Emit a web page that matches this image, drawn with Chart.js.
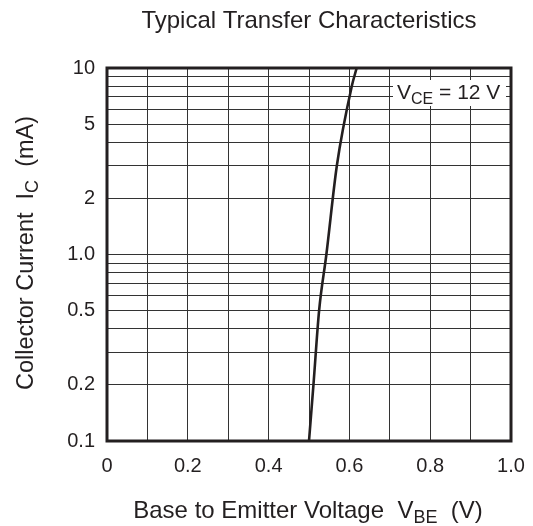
<!DOCTYPE html>
<html><head><meta charset="utf-8">
<script src="https://cdn.jsdelivr.net/npm/chart.js@4/dist/chart.umd.min.js"></script>
<style>html,body{margin:0;padding:0;background:#fff}#wrap{width:533px;height:526px}</style>
</head><body><div id="wrap"><canvas id="c" width="533" height="526"></canvas></div>
<script>
const vbe = [0.500, 0.511, 0.525, 0.543, 0.569, 0.606, 0.618];
const ic = [0.1, 0.2, 0.5, 1.0, 3.0, 8.0, 10];
const yTicks = [0.1,0.2,0.3,0.4,0.5,0.6,0.7,0.8,0.9,1,2,3,4,5,6,7,8,9,10];
const yLabels = {0.1:'0.1',0.2:'0.2',0.5:'0.5',1:'1.0',2:'2',5:'5',10:'10'};
const xLabels = {0:'0',2:'0.2',4:'0.4',6:'0.6',8:'0.8',10:'1.0'};
const FONT = "'Liberation Sans', Arial, sans-serif";

function subText(ctx, parts, x, y, align, big, small, off){
  let w = 0;
  parts.forEach(p=>{ctx.font = (p[1]? small:big) + 'px ' + FONT; w += ctx.measureText(p[0]).width;});
  let cx = align==='center' ? x - w/2 : x;
  parts.forEach(p=>{
    ctx.font = (p[1]? small:big) + 'px ' + FONT;
    ctx.fillText(p[0], cx, p[1]? y+off : y);
    cx += ctx.measureText(p[0]).width;
  });
}

const deco = {
  id:'deco',
  afterDraw(chart){
    const ctx = chart.ctx, a = chart.chartArea;
    ctx.save();
    ctx.textBaseline = 'alphabetic';
    ctx.textAlign = 'left';
    // legend box
    ctx.fillStyle = '#fff';
    ctx.fillRect(393, 80, 113, 26);
    ctx.fillStyle = '#231f20';
    subText(ctx, [['V',0],['CE',1],[' = 12 V',0]], 397, 98.5, 'left', 21, 16, 5);
    // title
    ctx.font = '24px ' + FONT;
    ctx.textAlign = 'center';
    ctx.fillText('Typical Transfer Characteristics', 309, 28);
    ctx.textAlign = 'left';
    subText(ctx, [['Base to Emitter Voltage  V',0],['BE',1],['  (V)',0]], 308, 518, 'center', 24, 18, 5);
    ctx.translate(33, 253);
    ctx.rotate(-Math.PI/2);
    subText(ctx, [['Collector Current  I',0],['C',1],['  (mA)',0]], 0, 0, 'center', 23.5, 18, 5);
    ctx.restore();
    // border
    ctx.save();
    ctx.strokeStyle = '#231f20';
    ctx.lineWidth = 3;
    ctx.strokeRect(a.left, a.top, a.right-a.left, a.bottom-a.top);
    ctx.restore();
  }
};

new Chart(document.getElementById('c'), {
  type: 'line',
  data: {
    datasets: [{
      data: vbe.map((v,i)=>({x:v, y:ic[i]})),
      borderColor: '#231f20',
      borderWidth: 2.6,
      pointRadius: 0,
      tension: 0.4,
      cubicInterpolationMode: 'monotone',
      fill: false
    }]
  },
  options: {
    responsive: false,
    animation: false,
    events: [],
    layout: {padding: {left: 0, right: 22, top: 68, bottom: 0}},
    plugins: {legend: {display: false}, tooltip: {enabled: false}},
    scales: {
      x: {
        type: 'linear', min: 0, max: 1,
        afterBuildTicks(s){ s.ticks = [0,1,2,3,4,5,6,7,8,9,10].map(i=>({value:i/10})); },
        afterFit(s){ s.height = 85; s.paddingLeft = 0; s.paddingRight = 0; },
        border: {display: false},
        grid: {color: '#333', lineWidth: 1, drawTicks: false},
        ticks: {
          autoSkip: false, maxRotation: 0, padding: 13,
          color: '#231f20', font: {family: FONT, size: 20},
          callback(v){ const k = Math.round(v*10); return xLabels[k] !== undefined ? xLabels[k] : ''; }
        }
      },
      y: {
        type: 'logarithmic', min: 0.1, max: 10,
        afterBuildTicks(s){ s.ticks = yTicks.map(v=>({value:v})); },
        afterFit(s){ s.width = 107; s.paddingTop = 0; s.paddingBottom = 0; },
        border: {display: false},
        grid: {color: '#333', lineWidth: 1, drawTicks: false},
        ticks: {
          autoSkip: false, padding: 12,
          color: '#231f20', font: {family: FONT, size: 20},
          callback(v){ const k = Math.round(v*10)/10; return yLabels[k] !== undefined ? yLabels[k] : ''; }
        }
      }
    }
  },
  plugins: [deco]
});
</script>
</body></html>
